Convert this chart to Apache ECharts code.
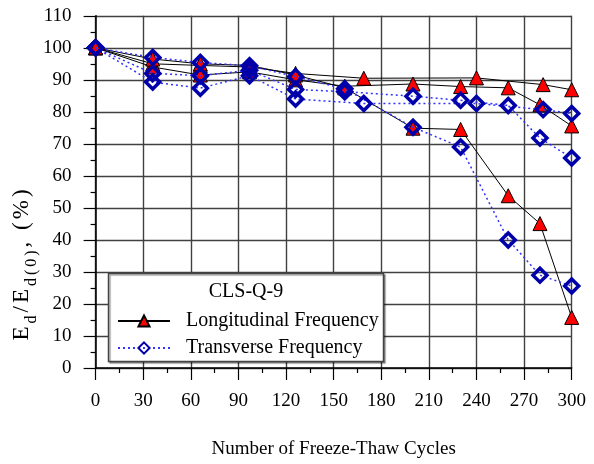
<!DOCTYPE html>
<html>
<head>
<meta charset="utf-8">
<script src="https://cdn.jsdelivr.net/npm/echarts@6/dist/echarts.min.js"></script>
<style>
  html, body { margin: 0; padding: 0; background: #fff; }
  #chart { width: 594px; height: 464px; }
</style>
</head>
<body>
<div id="chart"></div>
<script>
// Freeze-thaw cycles at which each specimen was measured
var cyclesA = [0, 36, 66, 97, 126, 169, 240, 282, 300];
var cyclesB = [0, 36, 66, 97, 126, 157, 200, 230, 260, 280, 300];
var cyclesC = [0, 36, 66, 97, 126, 157, 200, 230, 260, 280, 300];

// Relative dynamic modulus Ed/Ed(0), %
var long1 = [100, 95, 94.5, 94, 92, 90.5, 90.6, 88.5, 86.9];
var trans1 = [100, 89.3, 87.4, 91.3, 84, 82.6, 82.6, 80.7, 79.5];
var long2 = [100, 94, 91.5, 92.5, 90, 88, 88.7, 87.9, 87.5, 82.2, 75.6];
var trans2 = [100, 92, 91.3, 93, 87, 86.3, 84.9, 83.6, 82, 71.8, 65.6];
var long3 = [100, 96.5, 95, 94.5, 91.5, 87.5, 74.9, 74.5, 53.8, 45.1, 15.8];
var trans3 = [100, 97, 95.4, 94.4, 91, 87.2, 75.2, 69, 40, 29, 25.6];

var xTicks = { min: 0, max: 300, interval: 30 };
var yTicks = { min: 0, max: 110, interval: 10 };

var LONG_NAME = 'Longitudinal Frequency';
var TRANS_NAME = 'Transverse Frequency';
var SERIF = '"Liberation Serif", "Times New Roman", serif';

function pairs(xs, ys) {
  return xs.map(function (x, i) { return [x, ys[i]]; });
}

function longSeries(xs, ys) {
  return {
    name: LONG_NAME,
    type: 'line',
    data: pairs(xs, ys),
    symbol: 'triangle',
    symbolSize: 14,
    lineStyle: { color: '#000', width: 1 },
    itemStyle: { color: '#ff0000', borderColor: '#000', borderWidth: 1 },
    emphasis: { disabled: true },
    z: 2
  };
}

function transSeries(xs, ys) {
  return {
    name: TRANS_NAME,
    type: 'line',
    data: pairs(xs, ys),
    symbol: 'diamond',
    symbolSize: 14,
    lineStyle: { color: '#3333ff', width: 1.5, type: [2, 3] },
    itemStyle: { color: 'rgba(255,255,255,0)', borderColor: '#0000aa', borderWidth: 3.5 },
    emphasis: { disabled: true },
    z: 3
  };
}

// Y-axis title built glyph by glyph so it can be spaced out
function spaced(parts) {
  return parts.map(function (p) {
    return p[1].split('').map(function (ch) { return '{' + p[0] + '|' + ch + '}'; }).join('');
  }).join('');
}
var yTitle = spaced([['m', 'E'], ['s', 'd'], ['m', '/E'], ['s', 'd(0)'], ['m', ', (%)']]);

var chart = echarts.init(document.getElementById('chart'), null, { renderer: 'canvas' });

var axisCommon = {
  axisLine: { show: true, lineStyle: { color: '#000', width: 1.5 } },
  axisTick: { show: true, inside: false, length: 12, lineStyle: { color: '#000', width: 1.2 } },
  minorTick: { show: true, splitNumber: 2, length: 5, lineStyle: { color: '#000', width: 1.2 } },
  splitLine: { show: true, lineStyle: { color: '#404040', width: 1.4 } },
  axisLabel: { color: '#000', fontFamily: SERIF, fontSize: 19, margin: 24 }
};

chart.setOption({
  animation: false,
  backgroundColor: '#fff',
  grid: { left: 95.6, right: 22.3, top: 15.8, bottom: 90.7, containLabel: false },
  xAxis: Object.assign({}, axisCommon, {
    type: 'value',
    min: xTicks.min, max: xTicks.max, interval: xTicks.interval,
    name: 'Number of Freeze-Thaw Cycles',
    nameLocation: 'middle',
    nameGap: 72,
    nameTextStyle: { color: '#000', fontFamily: SERIF, fontSize: 19 }
  }),
  yAxis: Object.assign({}, axisCommon, {
    type: 'value',
    min: yTicks.min, max: yTicks.max, interval: yTicks.interval
  }),
  legend: {
    data: [LONG_NAME, TRANS_NAME],
    orient: 'vertical',
    left: 112,
    top: 306,
    itemWidth: 52,
    itemHeight: 14,
    itemGap: 7,
    selectedMode: false,
    textStyle: { color: '#000', fontFamily: SERIF, fontSize: 20, padding: [0, 0, 0, 11] },
    z: 20
  },
  graphic: [
    {
      type: 'rect',
      shape: { x: 108.5, y: 273.5, width: 275, height: 88 },
      style: { fill: '#fff', stroke: '#444', lineWidth: 1.5, shadowColor: 'rgba(0,0,0,0.35)', shadowOffsetX: 1.5, shadowOffsetY: 1.5, shadowBlur: 1 },
      z: 10
    },
    {
      type: 'text',
      x: 246, y: 292,
      style: { text: 'CLS-Q-9', fill: '#000', font: '20px ' + SERIF, align: 'center', verticalAlign: 'middle' },
      z: 11
    },
    {
      type: 'text',
      x: 22, y: 265,
      rotation: Math.PI / 2,
      style: {
        text: yTitle,
        fill: '#000',
        font: '23px ' + SERIF,
        align: 'center',
        verticalAlign: 'middle',
        rich: {
          m: { fontSize: 23, fontFamily: SERIF, fill: '#000', padding: [0, 1.5, 0, 1.5] },
          s: { fontSize: 16, fontFamily: SERIF, fill: '#000', verticalAlign: 'bottom', padding: [0, 1.5, -6, 1.5] }
        }
      },
      z: 11
    }
  ],
  series: [
    longSeries(cyclesA, long1),
    longSeries(cyclesB, long2),
    longSeries(cyclesC, long3),
    transSeries(cyclesA, trans1),
    transSeries(cyclesB, trans2),
    transSeries(cyclesC, trans3)
  ]
});
</script>
</body>
</html>
